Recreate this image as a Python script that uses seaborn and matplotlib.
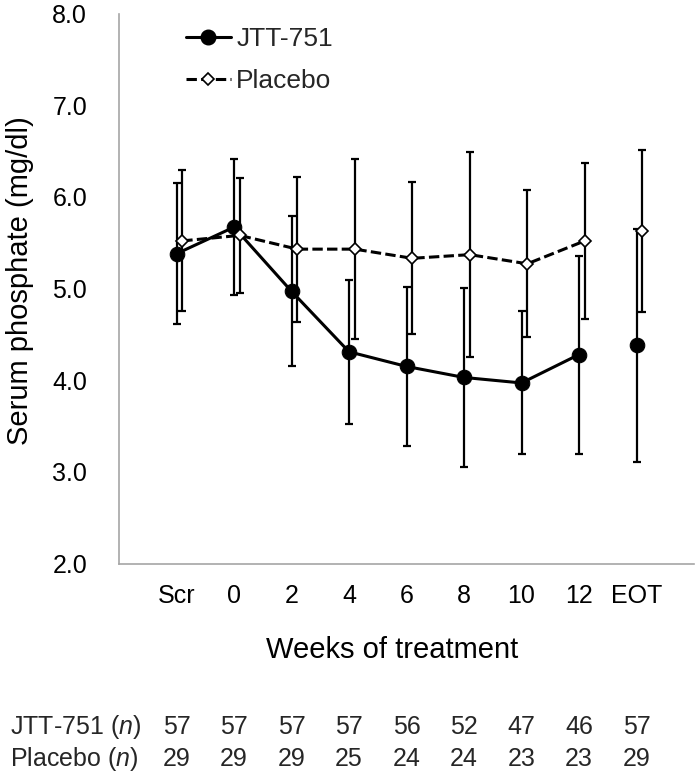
import numpy as np
import pandas as pd
import matplotlib
matplotlib.use("Agg")
import matplotlib.pyplot as plt
from matplotlib.lines import Line2D
import matplotlib.transforms as mtransforms
import seaborn as sns

# ---- data ----
categories = ["Scr", "0", "2", "4", "6", "8", "10", "12", "EOT"]
jtt_mean = [5.38, 5.67, 4.97, 4.31, 4.15, 4.03, 3.97, 4.28, 4.38]
jtt_sd = [0.77, 0.745, 0.82, 0.785, 0.865, 0.975, 0.78, 1.08, 1.27]
pla_mean = [5.52, 5.58, 5.43, 5.43, 5.33, 5.37, 5.27, 5.52, 5.63]
pla_sd = [0.77, 0.625, 0.79, 0.985, 0.83, 1.115, 0.80, 0.855, 0.885]
jtt_n = [57, 57, 57, 57, 56, 52, 47, 46, 57]
pla_n = [29, 29, 29, 25, 24, 24, 23, 23, 29]
yticks = [2.0, 3.0, 4.0, 5.0, 6.0, 7.0, 8.0]

sns.set_theme(style="white")
plt.rcParams["font.family"] = ["Liberation Sans", "DejaVu Sans"]
plt.rcParams["mathtext.fontset"] = "custom"
plt.rcParams["mathtext.rm"] = "Liberation Sans"
plt.rcParams["mathtext.it"] = "Liberation Sans:italic"

W, H = 697, 773
fig = plt.figure(figsize=(W / 100, H / 100), dpi=100)
ax_l, ax_r, ax_t, ax_b = 119, 694, 13.6, 563.5
ax = fig.add_axes([ax_l / W, 1 - ax_b / H, (ax_r - ax_l) / W, (ax_b - ax_t) / H])

pos = np.arange(len(categories))
off = 0.1
df = pd.DataFrame({
    "pos": pos,
    "jtt": jtt_mean, "jtt_sd": jtt_sd,
    "pla": pla_mean, "pla_sd": pla_sd,
})
df["pla_pos"] = df["pos"] + off
conn = df.iloc[:-1]
last = df.iloc[-1:]

# error bars
ax.errorbar(df["pos"], df["jtt"], yerr=df["jtt_sd"], fmt="none", ecolor="black",
            elinewidth=1.6, capsize=2.6, capthick=1.6, zorder=2)
ax.errorbar(df["pla_pos"], df["pla"], yerr=df["pla_sd"], fmt="none", ecolor="black",
            elinewidth=1.6, capsize=2.6, capthick=1.6, zorder=2)

dash = (0, (3.4, 1.4))
jtt_kw = dict(color="black", marker="o", markersize=10.5, markeredgecolor="black",
              markerfacecolor="black")
pla_kw = dict(color="black", marker="D", markersize=6.6, markeredgecolor="black",
              markerfacecolor="white", markeredgewidth=1.2)

sns.lineplot(data=conn, x="pos", y="jtt", ax=ax, linewidth=2.2, zorder=3, **jtt_kw)
sns.lineplot(data=last, x="pos", y="jtt", ax=ax, linewidth=0, zorder=3, **jtt_kw)
sns.lineplot(data=conn, x="pla_pos", y="pla", ax=ax, linewidth=2.2, linestyle=dash,
             zorder=4, **pla_kw)
sns.lineplot(data=last, x="pla_pos", y="pla", ax=ax, linewidth=0, zorder=4, **pla_kw)

ax.set_xlim(-1, len(categories))
ax.set_ylim(2.0, 8.0)
ax.set_xticks(pos)
ax.set_xticklabels(categories)
ax.set_yticks(yticks)
ax.set_yticklabels([f"{v:.1f}" for v in yticks])
ax.set_xlabel("")
ax.set_ylabel("")

spine_c = "#a6a6a6"
for s in ["top", "right"]:
    ax.spines[s].set_visible(False)
for s in ["left", "bottom"]:
    ax.spines[s].set_color(spine_c)
    ax.spines[s].set_linewidth(1.2)
ax.tick_params(axis="both", direction="in", length=5.5, width=1.2, color=spine_c,
               labelsize=18, labelcolor="black")
ax.tick_params(axis="x", pad=15)
ax.tick_params(axis="y", pad=23)
ax.set_facecolor("white")

# axis titles
fig.text(20 / W, 1 - 281 / H, "Serum phosphate (mg/dl)", rotation=90, ha="center",
         va="center", fontsize=21, color="black")
fig.text(392.5 / W, 1 - 658 / H, "Weeks of treatment", ha="center", va="baseline",
         fontsize=21, color="black")

# legend
handles = [Line2D([], [], linewidth=2.2, **jtt_kw),
           Line2D([], [], linewidth=2.2, linestyle=dash, **pla_kw)]
ax.legend(handles, ["JTT-751", "Placebo"], loc="upper left",
          bbox_to_anchor=(186 / W, 1 - 27 / H), bbox_transform=fig.transFigure,
          frameon=False, fontsize=19, handlelength=1.7, handletextpad=0.2,
          labelspacing=0.68, borderpad=0, borderaxespad=0)

# n table
trans = mtransforms.blended_transform_factory(ax.transData, fig.transFigure)
rows = [("JTT-751 ($\\it{n}$)", jtt_n, 734), ("Placebo ($\\it{n}$)", pla_n, 766)]
for label, vals, yb in rows:
    fig.text(10 / W, 1 - yb / H, label, ha="left", va="baseline", fontsize=18)
    for p, v in zip(pos, vals):
        ax.text(p, 1 - yb / H, str(v), transform=trans, ha="center", va="baseline",
                fontsize=18, clip_on=False)

fig.savefig("out.png", dpi=100, facecolor="white")
